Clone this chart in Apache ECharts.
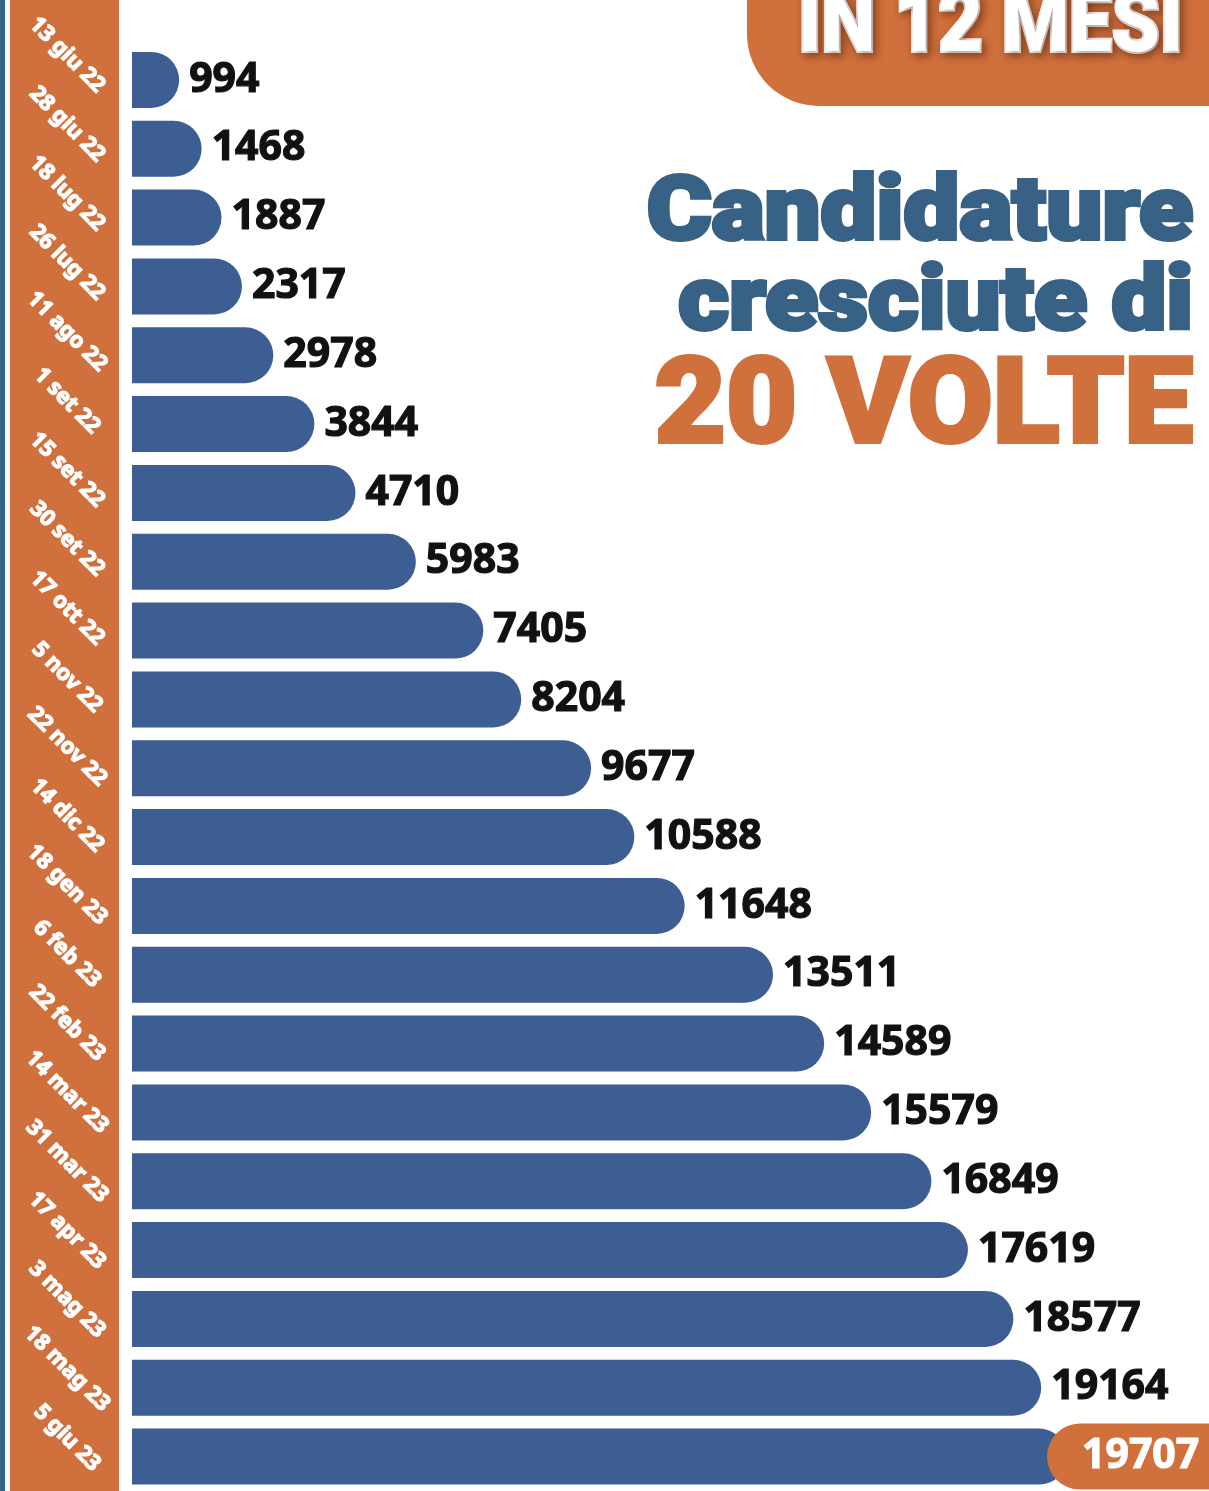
<!DOCTYPE html>
<html>
<head>
<meta charset="utf-8">
<script src="https://cdn.jsdelivr.net/npm/echarts@6/dist/echarts.min.js"></script>
<style>
  html, body { margin: 0; padding: 0; background: #fff; }
  #chart { width: 1209px; height: 1491px; }
</style>
</head>
<body>
<div id="chart"></div>
<script>
const dates = ['13 giu 22', '28 giu 22', '18 lug 22', '26 lug 22', '11 ago 22', '1 set 22', '15 set 22',
  '30 set 22', '17 ott 22', '5 nov 22', '22 nov 22', '14 dic 22', '18 gen 23', '6 feb 23', '22 feb 23',
  '14 mar 23', '31 mar 23', '17 apr 23', '3 mag 23', '18 mag 23', '5 giu 23'];
const values = [994, 1468, 1887, 2317, 2978, 3844, 4710, 5983, 7405, 8204, 9677, 10588, 11648, 13511,
  14589, 15579, 16849, 17619, 18577, 19164, 19707];
const titleLines = ['Candidature', 'cresciute di', '20 VOLTE'];
const badgeText = 'IN 12 MESI';

const BLUE = '#3d5e92';
const ORANGE = '#d0703c';
const TITLE_BLUE = '#376185';

const chart = echarts.init(document.getElementById('chart'));

// last bar gets the orange pill label
const barData = values.map((v, i) => {
  if (i !== values.length - 1) return v;
  return {
    value: v,
    label: {
      distance: -20,
      color: '#fff',
      textBorderColor: '#fff',
      backgroundColor: ORANGE,
      borderRadius: [34, 0, 0, 34],
      padding: [16, 40, 10, 35],
      lineHeight: 40
    }
  };
});

// heavy display text: Roboto bold thickened with a stroke of the same colour
const heavy = (fill, extra) => Object.assign({
  fill: fill, stroke: fill, lineWidth: 4, fontFamily: 'Roboto', fontWeight: 900,
  align: 'right', verticalAlign: 'top'
}, extra);

chart.setOption({
  animation: false,
  grid: [
    { left: 132, right: 0, top: 45.5, height: 1452 },
    { left: 132, right: 0, top: 20.5, height: 1452 }
  ],
  xAxis: [
    { type: 'value', gridIndex: 0, min: 0, max: 22700, show: false },
    { type: 'value', gridIndex: 1, min: 0, max: 22700, show: false }
  ],
  yAxis: [
    {
      type: 'category', gridIndex: 0, data: dates, inverse: true,
      axisLine: { show: false }, axisTick: { show: false }, axisLabel: { show: false }
    },
    {
      type: 'category', gridIndex: 1, data: dates, inverse: true,
      axisLine: { show: false }, axisTick: { show: false },
      axisLabel: {
        rotate: -45,
        margin: 65,
        align: 'center',
        verticalAlign: 'middle',
        color: '#fff',
        textBorderColor: '#fff',
        textBorderWidth: 1.2,
        fontFamily: 'Noto Sans',
        fontWeight: 'bold',
        fontSize: 22
      }
    }
  ],
  graphic: [
    { type: 'rect', shape: { x: 0, y: 0, width: 5, height: 1491 }, style: { fill: '#35628a' }, z: -1 },
    { type: 'rect', shape: { x: 10, y: 0, width: 109, height: 1491 }, style: { fill: ORANGE }, z: -1 },
    {
      type: 'rect',
      shape: { x: 747, y: -80, width: 470, height: 186, r: [0, 0, 0, 72] },
      style: { fill: ORANGE }
    },
    {
      type: 'text', x: 1183, y: -14, scaleX: 0.89,
      style: heavy('#fff', {
        text: badgeText, fontSize: 86,
        textShadowColor: 'rgba(60,20,0,0.45)', textShadowBlur: 8, textShadowOffsetX: 3, textShadowOffsetY: 3
      })
    },
    {
      type: 'text', x: 1193, y: 172, scaleX: 1.115,
      style: heavy(TITLE_BLUE, { text: titleLines[0], fontSize: 89 })
    },
    {
      type: 'text', x: 1193, y: 262, scaleX: 1.095,
      style: heavy(TITLE_BLUE, { text: titleLines[1], fontSize: 89 })
    },
    {
      type: 'text', x: 1193, y: 353, scaleX: 1.04,
      style: heavy(ORANGE, { text: titleLines[2], fontSize: 118 })
    }
  ],
  series: [
    {
      type: 'bar',
      xAxisIndex: 0,
      yAxisIndex: 0,
      data: barData,
      barWidth: 56,
      itemStyle: { color: BLUE, borderRadius: [0, 28, 28, 0] },
      label: {
        show: true,
        position: 'right',
        distance: 10,
        color: '#111',
        textBorderColor: '#111',
        textBorderWidth: 1.2,
        fontFamily: 'Noto Sans',
        fontWeight: 'bold',
        fontSize: 41
      }
    }
  ]
});
</script>
</body>
</html>
